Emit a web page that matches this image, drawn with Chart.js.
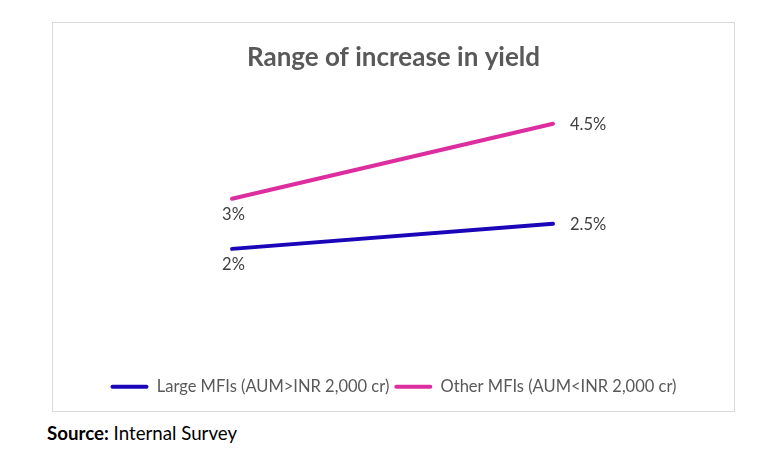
<!DOCTYPE html>
<html>
<head>
<meta charset="utf-8">
<script src="https://cdn.jsdelivr.net/npm/chart.js@4.4.1/dist/chart.umd.min.js"></script>
<style>
  html, body { margin: 0; padding: 0; background: #fff; }
  body { width: 778px; height: 458px; position: relative; overflow: hidden; font-family: Lato, "Open Sans", sans-serif; }
  #box { position: absolute; left: 52px; top: 22px; width: 681px; height: 388px; border: 1px solid #d9d9d9; }
  #source { position: absolute; left: 47px; top: 422px; font-size: 18.7px; color: #000; font-family: Lato, "Open Sans", sans-serif; }
</style>
</head>
<body>
<div id="box"><canvas id="c" width="681" height="388"></canvas></div>
<div id="source"><b>Source:</b> Internal Survey</div>
<script>
const categories = ['Low', 'High'];
const largeMFIs = [2, 2.5];
const otherMFIs = [3, 4.5];
const valueLabels = {
  large: ['2%', '2.5%'],
  other: ['3%', '4.5%']
};
const seriesNames = ['Large MFIs (AUM>INR 2,000 cr)', 'Other MFIs (AUM<INR 2,000 cr)'];
const colors = ['#1a06b8', '#dd2e9f'];

const toPoints = arr => arr.map((v, i) => ({ x: i, y: v }));

const labelPlugin = {
  id: 'valueLabels',
  afterDatasetsDraw(chart) {
    const ctx = chart.ctx;
    ctx.save();
    ctx.font = '16.5px Lato, "Open Sans", sans-serif';
    ctx.fillStyle = '#404040';
    chart.data.datasets.forEach((ds, di) => {
      const meta = chart.getDatasetMeta(di);
      meta.data.forEach((pt, i) => {
        const txt = ds.valueText[i];
        ctx.textAlign = 'left';
        ctx.textBaseline = 'middle';
        if (i === 0) {
          ctx.fillText(txt, pt.x - 10, pt.y + 16);
        } else {
          ctx.fillText(txt, pt.x + 17, pt.y + 1);
        }
      });
    });
    ctx.restore();
  }
};

new Chart(document.getElementById('c'), {
  type: 'line',
  data: {
    datasets: [
      { label: seriesNames[0], data: toPoints(largeMFIs), valueText: valueLabels.large,
        borderColor: colors[0], backgroundColor: colors[0], borderWidth: 4, borderCapStyle: 'round',
        pointRadius: 0, pointHoverRadius: 0, tension: 0 },
      { label: seriesNames[1], data: toPoints(otherMFIs), valueText: valueLabels.other,
        borderColor: colors[1], backgroundColor: colors[1], borderWidth: 4, borderCapStyle: 'round',
        pointRadius: 0, pointHoverRadius: 0, tension: 0 }
    ]
  },
  options: {
    responsive: false,
    animation: false,
    events: [],
    layout: { padding: { left: 0, right: 0, top: 0, bottom: 6 } },
    scales: {
      x: { type: 'linear', display: false, min: -0.558, max: 1.564 },
      y: { type: 'linear', display: false, min: -0.49, max: 5.35 }
    },
    plugins: {
      tooltip: { enabled: false },
      title: {
        display: true,
        text: 'Range of increase in yield',
        color: '#595959',
        font: { family: 'Lato, "Open Sans", sans-serif', size: 26, weight: 'bold' },
        padding: { top: 19, bottom: 8 }
      },
      legend: {
        position: 'bottom',
        labels: {
          color: '#595959',
          font: { family: 'Lato, "Open Sans", sans-serif', size: 16.5 },
          boxWidth: 38,
          boxHeight: 4,
          useBorderRadius: true,
          borderRadius: 2,
          padding: 5,
          generateLabels(chart) {
            return chart.data.datasets.map((ds, i) => ({
              text: ds.label, fillStyle: ds.borderColor, strokeStyle: ds.borderColor,
              lineWidth: 0, hidden: false, datasetIndex: i, fontColor: '#595959', borderRadius: 2
            }));
          }
        }
      }
    }
  },
  plugins: [labelPlugin]
});
</script>
</body>
</html>
